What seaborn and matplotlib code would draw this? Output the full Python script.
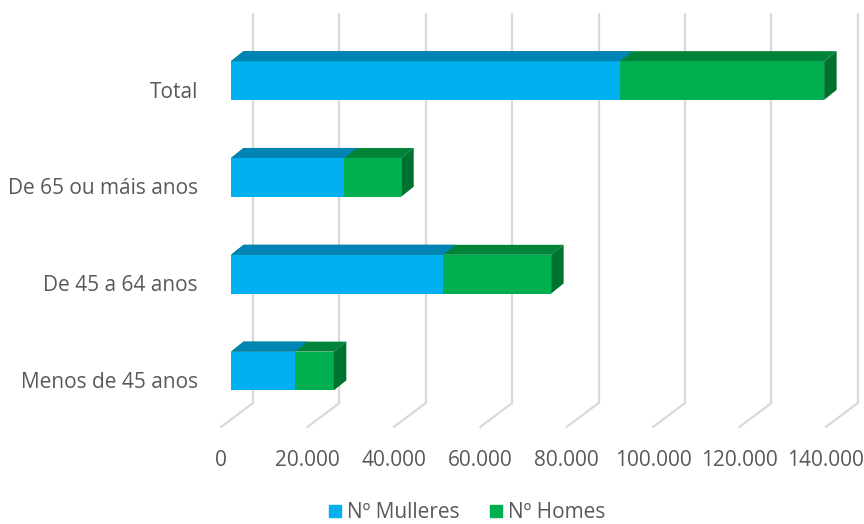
import numpy as np
import pandas as pd
import matplotlib
matplotlib.use("Agg")
import matplotlib.pyplot as plt
import seaborn as sns
from matplotlib.transforms import ScaledTranslation, IdentityTransform
from matplotlib.patches import Polygon
from matplotlib.lines import Line2D

# ---- data ----
categories = ["Total", "De 65 ou máis anos", "De 45 a 64 anos", "Menos de 45 anos"]
mulleres = [90100, 26200, 49100, 14800]
homes = [47200, 13200, 25000, 9000]
series = ["Nº Mulleres", "Nº Homes"]
xticks = [0, 20000, 40000, 60000, 80000, 100000, 120000, 140000]
xticklabels = ["0", "20.000", "40.000", "60.000", "80.000", "100.000", "120.000", "140.000"]

# ---- style ----
BLUE, BLUE_TOP = "#00B0F0", "#0084B4"
GREEN, GREEN_TOP, GREEN_SIDE = "#00B050", "#00843A", "#00722F"
GRID = "#D9D9D9"
TXT = "#595959"

sns.set_style("white")
plt.rcParams["font.family"] = ["Open Sans", "DejaVu Sans"]

W, H = 864, 524
fig = plt.figure(figsize=(W / 100, H / 100), dpi=100)
ax_top, ax_bot, ax_l, ax_r = 32.1, 419.4, 231, 835.8
ax = fig.add_axes([ax_l / W, (H - ax_bot) / H, (ax_r - ax_l) / W, (ax_bot - ax_top) / H])
ax.patch.set_visible(False)

df = pd.DataFrame({"cat": categories, "m": mulleres, "h": homes})
df["t"] = df["m"] + df["h"]

sns.barplot(data=df, x="t", y="cat", order=categories, color=GREEN, saturation=1,
            width=0.4, linewidth=0, ax=ax, zorder=2)
sns.barplot(data=df, x="m", y="cat", order=categories, color=BLUE, saturation=1,
            width=0.4, linewidth=0, ax=ax, zorder=2)

ax.set_xlim(0, 140000)
ax.set_ylim(3.5, -0.5)
ax.set_xlabel("")
ax.set_ylabel("")
for s in ax.spines.values():
    s.set_visible(False)

# depth of the 3D effect (display pixels)
DX, DY = 12.5, 10.0
BACK_DX = 22.0
FLOOR_DX, FLOOR_DY = -32.0, -24.0
grid_bottom = H - 403.0
grid_top = H - 13.5

# gridlines (back wall + floor)
for v in xticks:
    xd = ax.transData.transform((v, 0))[0] + BACK_DX
    ax.add_artist(Line2D([xd, xd], [grid_bottom, grid_top], color=GRID, lw=1.6,
                         transform=IdentityTransform(), clip_on=False, zorder=0.5))
    ax.add_artist(Line2D([xd, xd + FLOOR_DX], [grid_bottom, grid_bottom + FLOOR_DY],
                         color=GRID, lw=1.6, transform=IdentityTransform(),
                         clip_on=False, zorder=0.5))

# 3D faces for bars
def faces(patch, top_color, side_color=None):
    x0, y0 = patch.get_x(), patch.get_y()
    x1, y1 = x0 + patch.get_width(), y0 + patch.get_height()
    (a, b), (c, d) = ax.transData.transform([(x0, y0), (x1, y1)])
    left, right = min(a, c), max(a, c)
    bottom, top = min(b, d), max(b, d)
    pts = [(left, top), (right, top), (right + DX, top + DY), (left + DX, top + DY)]
    ax.add_artist(Polygon(pts, closed=True, facecolor=top_color, lw=0,
                          transform=IdentityTransform(), clip_on=False, zorder=3))
    if side_color:
        pts = [(right, top), (right + DX, top + DY), (right + DX, bottom + DY), (right, bottom)]
        ax.add_artist(Polygon(pts, closed=True, facecolor=side_color, lw=0,
                              transform=IdentityTransform(), clip_on=False, zorder=3))

green_c, blue_c = ax.containers[0], ax.containers[1]
for p in green_c:
    faces(p, GREEN_TOP, GREEN_SIDE)
for p in blue_c:
    faces(p, BLUE_TOP)

# ticks
ax.set_xticks(xticks, xticklabels)
ax.tick_params(axis="x", length=0, pad=22, labelsize=15, labelcolor=TXT)
ax.tick_params(axis="y", length=0, pad=23.8, labelsize=15, labelcolor=TXT)
for lbl in ax.get_xticklabels():
    lbl.set_transform(lbl.get_transform() + ScaledTranslation(-10 / 100, 0, fig.dpi_scale_trans))
for lbl in ax.get_yticklabels():
    lbl.set_transform(lbl.get_transform() + ScaledTranslation(0, -9 / 100, fig.dpi_scale_trans))

# legend
handles = [Line2D([], [], marker="s", ls="", color=BLUE, markersize=8),
           Line2D([], [], marker="s", ls="", color=GREEN, markersize=8)]
fig.legend(handles=handles, labels=series, loc="center", bbox_to_anchor=(466 / W, 1 - 513 / H),
           ncol=2, frameon=False, fontsize=15, labelcolor=TXT, handletextpad=0.2,
           columnspacing=1.3, handlelength=0.8, borderpad=0, borderaxespad=0)

fig.savefig("out.png", dpi=100)
